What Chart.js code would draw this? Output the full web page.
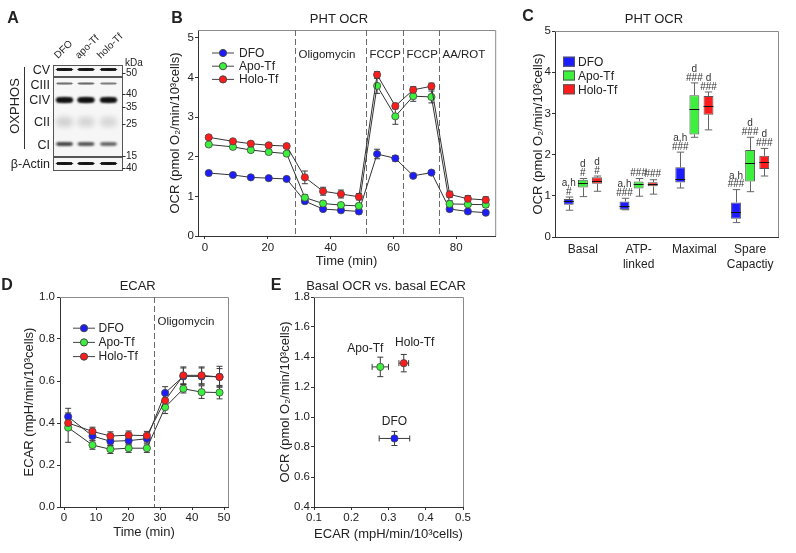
<!DOCTYPE html>
<html>
<head>
<meta charset="utf-8">
<script src="https://cdn.jsdelivr.net/npm/chart.js@4.4.1/dist/chart.umd.min.js"></script>
<style>
  body { margin: 0; width: 796px; height: 553px; position: relative; overflow: hidden; background: #fff;
         font-family: "Liberation Sans", Arial, sans-serif; color: #222; }
  canvas { position: absolute; }
  .t { position: absolute; white-space: nowrap; line-height: 1; font-size: 13px; transform: translate(-50%, -50%); }
</style>
</head>
<body>
<canvas id="blot" width="150" height="180" style="left:0;top:0"></canvas>
<canvas id="chartB" width="340" height="280" style="left:160px;top:0"></canvas>
<canvas id="chartC" width="276" height="280" style="left:520px;top:0"></canvas>
<canvas id="chartD" width="240" height="278" style="left:0;top:275px"></canvas>
<canvas id="chartE" width="220" height="278" style="left:260px;top:275px"></canvas>

<script>
// ---- Panel A: western blot ----
const blotLanes = ['DFO', 'apo-Tf', 'holo-Tf'];
const blotBands = ['CV', 'CIII', 'CIV', 'CII', 'CI', 'β-Actin'];
const bandIntensity = [
  [0.88, 0.88, 0.86],
  [0.34, 0.36, 0.3],
  [0.97, 0.97, 0.94],
  [0.08, 0.07, 0.065],
  [0.6, 0.52, 0.45],
  [0.9, 0.9, 0.88]
];
const kdaMarks = ['50', '40', '35', '25', '15', '40'];

// ---- Panel B: PHT OCR time course ----
const ocrTimes = [1.2, 8.9, 14.6, 20.3, 26.0, 31.8, 37.6, 43.3, 49.0, 54.8, 60.6, 66.3, 72.1, 77.9, 83.7, 89.4];
const ocrDfo  = [1.59, 1.54, 1.48, 1.46, 1.44, 0.88, 0.68, 0.65, 0.62, 2.07, 1.96, 1.52, 1.60, 0.68, 0.62, 0.59];
const ocrApo  = [2.31, 2.25, 2.17, 2.12, 2.08, 0.97, 0.82, 0.78, 0.76, 3.79, 3.02, 3.53, 3.51, 0.81, 0.80, 0.79];
const ocrHolo = [2.49, 2.39, 2.33, 2.29, 2.27, 1.48, 1.13, 1.06, 0.99, 4.07, 3.28, 3.69, 3.78, 1.05, 0.94, 0.91];
const ocrDfoErr  = [0.04, 0.04, 0.03, 0.03, 0.03, 0.05, 0.06, 0.06, 0.06, 0.12, 0.07, 0.05, 0.05, 0.06, 0.05, 0.05];
const ocrApoErr  = [0.04, 0.06, 0.06, 0.05, 0.05, 0.07, 0.06, 0.06, 0.06, 0.19, 0.2, 0.13, 0.15, 0.08, 0.06, 0.06];
const ocrHoloErr = [0.05, 0.05, 0.05, 0.05, 0.05, 0.16, 0.1, 0.1, 0.08, 0.08, 0.07, 0.08, 0.08, 0.08, 0.08, 0.08];
const ocrInjections = [28.6, 51.4, 62.9, 74.6];
const ocrInjectionLabels = ['Oligomycin', 'FCCP', 'FCCP', 'AA/ROT'];
const ocrTimeTicks = [0, 20, 40, 60, 80];
const ocrTicks = [0, 1, 2, 3, 4, 5];

// ---- Panel C: OCR parameters (min, q1, median, q3, max) ----
const boxCategories = ['Basal', ['ATP-', 'linked'], 'Maximal', ['Spare', 'Capactiy']];
const boxDfo  = [[0.65, 0.78, 0.87, 0.92, 0.97], [0.66, 0.66, 0.76, 0.86, 0.94], [1.19, 1.32, 1.40, 1.69, 2.06], [0.35, 0.44, 0.60, 0.84, 1.15]];
const boxApo  = [[0.98, 1.20, 1.31, 1.39, 1.42], [0.99, 1.18, 1.29, 1.35, 1.42], [2.42, 2.49, 3.10, 3.44, 3.74], [1.10, 1.35, 1.79, 2.11, 2.42]];
const boxHolo = [[1.11, 1.29, 1.37, 1.45, 1.48], [1.04, 1.23, 1.29, 1.33, 1.39], [2.60, 2.97, 3.18, 3.42, 3.52], [1.48, 1.65, 1.83, 1.97, 2.15]];
const sigDfo  = [['a,h', '#'], ['a,h', '###'], ['a,h', '###'], ['a,h', '###']];
const sigApo  = [['d', '#'], ['###'], ['d', '###'], ['d', '###']];
const sigHolo = [['d', '#'], ['###'], ['d', '###'], ['d', '###']];

// ---- Panel D: ECAR time course ----
const ecarTimes = [1.3, 8.9, 14.5, 20.2, 25.9, 31.6, 37.3, 43.0, 48.6];
const ecarDfo  = [0.43, 0.338, 0.313, 0.316, 0.325, 0.543, 0.622, 0.622, 0.62];
const ecarApo  = [0.378, 0.295, 0.275, 0.28, 0.28, 0.475, 0.563, 0.547, 0.545];
const ecarHolo = [0.40, 0.36, 0.338, 0.342, 0.34, 0.507, 0.627, 0.627, 0.619];
const ecarDfoErr  = [0.04, 0.02, 0.02, 0.02, 0.02, 0.03, 0.04, 0.04, 0.05];
const ecarApoErr  = [0.07, 0.02, 0.02, 0.02, 0.02, 0.03, 0.02, 0.03, 0.03];
const ecarHoloErr = [0.03, 0.02, 0.02, 0.02, 0.02, 0.03, 0.04, 0.04, 0.04];
const ecarInjections = [28.2];
const ecarInjectionLabels = ['Oligomycin'];
const ecarTimeTicks = [0, 10, 20, 30, 40, 50];
const ecarTicks = [0, 0.2, 0.4, 0.6, 0.8, 1.0];

// ---- Panel E: basal OCR vs basal ECAR ----
const basalNames = ['DFO', 'Apo-Tf', 'Holo-Tf'];
const basalEcar = [0.316, 0.278, 0.341];
const basalEcarErr = [0.041, 0.022, 0.013];
const basalOcr = [0.857, 1.334, 1.359];
const basalOcrErr = [0.047, 0.065, 0.058];
const basalEcarTicks = [0.1, 0.2, 0.3, 0.4, 0.5];
const basalOcrTicks = [0.4, 0.6, 0.8, 1.0, 1.2, 1.4, 1.6, 1.8];

const FONT = '"Liberation Sans", Arial, sans-serif';
const DFO_COLOR = '#1c1cff', APO_COLOR = '#3ef03e', HOLO_COLOR = '#ff1c1c';
const OCR_TITLE = 'OCR (pmol O₂/min/10³cells)';

Chart.defaults.font.family = FONT;
Chart.defaults.color = '#222';
Chart.defaults.animation = false;
Chart.defaults.plugins.legend.display = false;
Chart.defaults.plugins.tooltip.enabled = false;

// page text (titles, panel letters, blot labels)
function addText(txt, x, y, css) {
  const d = document.createElement('div');
  d.className = 't';
  d.textContent = txt;
  d.style.left = x + 'px';
  d.style.top = y + 'px';
  Object.assign(d.style, css || {});
  document.body.appendChild(d);
  return d;
}

function linearAxis({min, max, ticks, fmt, size, title, titlePad, tickPad = 1}) {
  return {
    type: 'linear', min, max,
    afterBuildTicks: s => { s.ticks = ticks.map(v => ({value: v})); },
    afterFit: s => { if (s.isHorizontal()) s.height = size; else s.width = size; },
    ticks: {font: {size: 11.5}, color: '#222', padding: tickPad, autoSkip: false, maxRotation: 0,
            callback: fmt || (v => String(v))},
    grid: {drawOnChartArea: false, tickLength: 3, color: '#333'},
    border: {color: '#333'},
    title: {display: !!title, text: title, font: {size: 13}, color: '#222', padding: titlePad}
  };
}

// grey frame on top and right of the plot
const framePlugin = {
  id: 'frame',
  beforeDatasetsDraw(chart) {
    const {ctx, chartArea: a} = chart;
    ctx.save();
    ctx.strokeStyle = '#8a8a8a';
    ctx.lineWidth = 1;
    ctx.beginPath();
    ctx.moveTo(a.left, a.top + 0.5);
    ctx.lineTo(a.right + 0.5, a.top + 0.5);
    ctx.lineTo(a.right + 0.5, a.bottom);
    ctx.stroke();
    ctx.restore();
  }
};

// dashed injection lines with labels
const injectionPlugin = {
  id: 'injections',
  beforeDatasetsDraw(chart, args, opts) {
    if (!opts.times) return;
    const {ctx, chartArea: a, scales: {x}} = chart;
    ctx.save();
    ctx.font = '11.5px ' + FONT;
    ctx.fillStyle = '#222';
    ctx.textBaseline = 'middle';
    opts.times.forEach((t, i) => {
      const px = Math.round(x.getPixelForValue(t)) + 0.5;
      ctx.strokeStyle = '#6a6a6a';
      ctx.setLineDash([6, 3]);
      ctx.beginPath();
      ctx.moveTo(px, a.top);
      ctx.lineTo(px, a.bottom);
      ctx.stroke();
      ctx.fillText(opts.labels[i], px + 3, a.top + opts.labelDy);
    });
    ctx.restore();
  }
};

// error bars (vertical, and horizontal if xErr given)
const errorBarPlugin = {
  id: 'errorBars',
  beforeDatasetsDraw(chart) {
    const {ctx, scales: {x, y}} = chart;
    const seg = (x1, y1, x2, y2) => { ctx.beginPath(); ctx.moveTo(x1, y1); ctx.lineTo(x2, y2); ctx.stroke(); };
    ctx.save();
    ctx.strokeStyle = '#3a3a3a';
    ctx.lineWidth = 1;
    chart.data.datasets.forEach((ds, i) => {
      chart.getDatasetMeta(i).data.forEach((pt, j) => {
        const v = ds.data[j];
        if (ds.yErr) {
          const t = y.getPixelForValue(v.y + ds.yErr[j]), b = y.getPixelForValue(v.y - ds.yErr[j]);
          seg(pt.x, t, pt.x, b);
          seg(pt.x - 3, t, pt.x + 3, t);
          seg(pt.x - 3, b, pt.x + 3, b);
        }
        if (ds.xErr) {
          const l = x.getPixelForValue(v.x - ds.xErr[j]), r = x.getPixelForValue(v.x + ds.xErr[j]);
          seg(l, pt.y, r, pt.y);
          seg(l, pt.y - 3, l, pt.y + 3);
          seg(r, pt.y - 3, r, pt.y + 3);
        }
      });
    });
    ctx.restore();
  }
};

// legend drawn inside the plot
const legendPlugin = {
  id: 'innerLegend',
  afterDraw(chart, args, o) {
    if (o.x === undefined) return;
    const ctx = chart.ctx;
    ctx.save();
    ctx.font = '12px ' + FONT;
    ctx.textBaseline = 'middle';
    chart.data.datasets.forEach((ds, i) => {
      const cy = o.y + i * o.dy;
      if (o.kind === 'box') {
        ctx.fillStyle = ds.backgroundColor;
        ctx.fillRect(o.x, cy - 5, 12, 10);
        ctx.strokeStyle = '#555';
        ctx.strokeRect(o.x + 0.5, cy - 4.5, 11, 9);
      } else {
        ctx.strokeStyle = '#444';
        ctx.lineWidth = 1;
        ctx.beginPath();
        ctx.moveTo(o.x, cy + 0.5);
        ctx.lineTo(o.x + o.len, cy + 0.5);
        ctx.stroke();
        ctx.beginPath();
        ctx.arc(o.x + o.len / 2, cy + 0.5, 3.6, 0, Math.PI * 2);
        ctx.fillStyle = ds.pointBackgroundColor;
        ctx.fill();
        ctx.strokeStyle = '#444';
        ctx.stroke();
      }
      ctx.fillStyle = '#222';
      ctx.fillText(ds.label, o.textX, cy + 1);
    });
    ctx.restore();
  }
};

function lineSet(label, times, values, errs, color, order) {
  return {
    label, order,
    data: times.map((t, i) => ({x: t, y: values[i]})),
    yErr: errs,
    showLine: true,
    borderColor: '#333', borderWidth: 1,
    pointRadius: 3.6, pointBackgroundColor: color, pointBorderColor: '#444', pointBorderWidth: 0.8
  };
}

// ---- B ----
new Chart(document.getElementById('chartB'), {
  type: 'scatter',
  data: {
    datasets: [
      lineSet('DFO', ocrTimes, ocrDfo, ocrDfoErr, DFO_COLOR, 3),
      lineSet('Apo-Tf', ocrTimes, ocrApo, ocrApoErr, APO_COLOR, 2),
      lineSet('Holo-Tf', ocrTimes, ocrHolo, ocrHoloErr, HOLO_COLOR, 1)
    ]
  },
  options: {
    responsive: false,
    layout: {padding: {top: 30, right: 4, left: 0, bottom: 0}},
    scales: {
      x: linearAxis({min: -2.22, max: 92.4, ticks: ocrTimeTicks, size: 44, title: 'Time (min)', titlePad: 10.5, tickPad: 2.4}),
      y: linearAxis({min: 0, max: 5.2, ticks: ocrTicks, size: 38, title: OCR_TITLE, titlePad: 7.2})
    },
    plugins: {
      injections: {times: ocrInjections, labels: ocrInjectionLabels, labelDy: 24.5},
      innerLegend: {x: 52, y: 52.5, dy: 13.2, len: 22, textX: 79}
    }
  },
  plugins: [framePlugin, injectionPlugin, errorBarPlugin, legendPlugin]
});

// ---- C: box plots from floating bars ----
const boxPlugin = {
  id: 'boxes',
  afterDatasetsDraw(chart) {
    const {ctx, scales: {y}} = chart;
    const seg = (x1, y1, x2, y2) => { ctx.beginPath(); ctx.moveTo(x1, y1); ctx.lineTo(x2, y2); ctx.stroke(); };
    ctx.save();
    ctx.lineWidth = 1;
    chart.data.datasets.forEach((ds, i) => {
      chart.getDatasetMeta(i).data.forEach((bar, j) => {
        const [min, q1, med, q3, max] = ds.stats[j];
        const x = Math.round(bar.x) + 0.5, hw = bar.width / 2;
        const pMin = y.getPixelForValue(min), pQ1 = y.getPixelForValue(q1);
        const pMed = Math.round(y.getPixelForValue(med)) + 0.5;
        const pQ3 = y.getPixelForValue(q3), pMax = y.getPixelForValue(max);
        ctx.strokeStyle = '#666';
        seg(x, pMax, x, pQ3);
        seg(x, pQ1, x, pMin);
        seg(x - hw * 0.75, pMax, x + hw * 0.75, pMax);
        seg(x - hw * 0.75, pMin, x + hw * 0.75, pMin);
        ctx.strokeStyle = '#111';
        seg(bar.x - hw, pMed, bar.x + hw, pMed);
        // significance marks above the whisker
        ctx.fillStyle = '#333';
        ctx.font = '10px ' + FONT;
        ctx.textAlign = 'center';
        ctx.textBaseline = 'middle';
        const marks = ds.marks[j];
        marks.forEach((m, k) => {
          ctx.fillText(m, bar.x, pMax - 5 - (marks.length - 1 - k) * 8.8);
        });
      });
    });
    ctx.restore();
  }
};

function boxSet(label, stats, marks, color) {
  return {
    label, stats, marks,
    data: stats.map(s => [s[1], s[3]]),
    backgroundColor: color,
    borderColor: '#555', borderWidth: 1, borderSkipped: false,
    barPercentage: 0.7, categoryPercentage: 0.76
  };
}

new Chart(document.getElementById('chartC'), {
  type: 'bar',
  data: {
    labels: boxCategories,
    datasets: [
      boxSet('DFO', boxDfo, sigDfo, DFO_COLOR),
      boxSet('Apo-Tf', boxApo, sigApo, APO_COLOR),
      boxSet('Holo-Tf', boxHolo, sigHolo, HOLO_COLOR)
    ]
  },
  options: {
    responsive: false,
    layout: {padding: {top: 31, right: 18, left: 0, bottom: 0}},
    scales: {
      x: {
        afterFit: s => { s.height = 43; },
        ticks: {font: {size: 12, lineHeight: 1.25}, color: '#222', padding: 5.5, maxRotation: 0, autoSkip: false},
        grid: {display: false, drawTicks: false},
        border: {color: '#333'}
      },
      y: linearAxis({min: 0, max: 5, ticks: ocrTicks, size: 35, title: OCR_TITLE, titlePad: 10.2})
    },
    plugins: {
      innerLegend: {x: 43, y: 61.7, dy: 13.8, kind: 'box', textX: 58}
    }
  },
  plugins: [framePlugin, boxPlugin, legendPlugin]
});

// ---- D ----
new Chart(document.getElementById('chartD'), {
  type: 'scatter',
  data: {
    datasets: [
      lineSet('DFO', ecarTimes, ecarDfo, ecarDfoErr, DFO_COLOR, 3),
      lineSet('Apo-Tf', ecarTimes, ecarApo, ecarApoErr, APO_COLOR, 2),
      lineSet('Holo-Tf', ecarTimes, ecarHolo, ecarHoloErr, HOLO_COLOR, 1)
    ]
  },
  options: {
    responsive: false,
    layout: {padding: {top: 22, right: 12, left: 0, bottom: 0}},
    scales: {
      x: linearAxis({min: -1.25, max: 51.25, ticks: ecarTimeTicks, size: 46, title: 'Time (min)', titlePad: 12.9, tickPad: 1}),
      y: linearAxis({min: 0, max: 1, ticks: ecarTicks, fmt: v => v.toFixed(1), size: 60,
                     title: 'ECAR (mpH/min/10³cells)', titlePad: 21.5, tickPad: 2})
    },
    plugins: {
      injections: {times: ecarInjections, labels: ecarInjectionLabels, labelDy: 25.3},
      innerLegend: {x: 73, y: 52.7, dy: 14.2, len: 22, textX: 98.5}
    }
  },
  plugins: [framePlugin, injectionPlugin, errorBarPlugin, legendPlugin]
});

// ---- E ----
const pointLabelPlugin = {
  id: 'pointLabels',
  afterDatasetsDraw(chart) {
    const ctx = chart.ctx;
    const offsets = [[0, -17], [-15, -18], [11, -20]];
    ctx.save();
    ctx.font = '12px ' + FONT;
    ctx.fillStyle = '#222';
    ctx.textAlign = 'center';
    ctx.textBaseline = 'middle';
    chart.getDatasetMeta(0).data.forEach((pt, i) => {
      ctx.fillText(basalNames[i], pt.x + offsets[i][0], pt.y + offsets[i][1]);
    });
    ctx.restore();
  }
};

new Chart(document.getElementById('chartE'), {
  type: 'scatter',
  data: {
    datasets: [{
      label: 'Basal',
      data: basalEcar.map((v, i) => ({x: v, y: basalOcr[i]})),
      xErr: basalEcarErr,
      yErr: basalOcrErr,
      pointRadius: 3.6,
      pointBackgroundColor: [DFO_COLOR, APO_COLOR, HOLO_COLOR],
      pointBorderColor: '#444', pointBorderWidth: 0.8
    }]
  },
  options: {
    responsive: false,
    layout: {padding: {top: 22, right: 17, left: 0, bottom: 0}},
    scales: {
      x: linearAxis({min: 0.1, max: 0.5, ticks: basalEcarTicks, fmt: v => v.toFixed(1), size: 46,
                     title: 'ECAR (mpH/min/10³cells)', titlePad: 11.2, tickPad: 1}),
      y: linearAxis({min: 0.4, max: 1.8, ticks: basalOcrTicks, fmt: v => v.toFixed(1), size: 54,
                     title: OCR_TITLE, titlePad: 17.2, tickPad: 1})
    }
  },
  plugins: [framePlugin, errorBarPlugin, pointLabelPlugin]
});

// ---- A: blot drawing ----
function drawBlot() {
  const ctx = document.getElementById('blot').getContext('2d');
  const boxes = [[53, 65, 69, 11], [53, 77, 69, 79], [53, 157, 69, 13]];
  const rows = [
    {y: 69.5, h: 2.8, blur: 0.6},
    {y: 83.5, h: 2.2, blur: 0.7},
    {y: 100, h: 5, blur: 0.8},
    {y: 122, h: 10, blur: 2.5},
    {y: 144, h: 3.2, blur: 0.8},
    {y: 163.5, h: 2.8, blur: 0.6}
  ];
  const laneX = [64.5, 86, 108.5];
  ctx.fillStyle = '#f6f6f6';
  boxes.forEach(b => ctx.fillRect(...b));
  rows.forEach((r, bi) => {
    laneX.forEach((lx, li) => {
      ctx.save();
      ctx.filter = `blur(${r.blur}px)`;
      ctx.fillStyle = `rgba(15,15,15,${bandIntensity[bi][li]})`;
      ctx.beginPath();
      ctx.ellipse(lx, r.y, 9, r.h / 2, 0, 0, Math.PI * 2);
      ctx.fill();
      ctx.fillRect(lx - 7.5, r.y - r.h / 2, 15, r.h);
      ctx.restore();
    });
  });
  ctx.strokeStyle = '#555';
  ctx.lineWidth = 1;
  boxes.forEach(b => ctx.strokeRect(b[0] + 0.5, b[1] + 0.5, b[2], b[3]));
  // OXPHOS bracket and kDa ticks
  ctx.strokeStyle = '#333';
  ctx.beginPath();
  ctx.moveTo(24.5, 67);
  ctx.lineTo(24.5, 149);
  const kdaY = [73.3, 94.3, 107.3, 124, 155.7, 168.3];
  kdaY.forEach(y => { ctx.moveTo(122, Math.round(y) + 0.5); ctx.lineTo(125.5, Math.round(y) + 0.5); });
  ctx.stroke();
  kdaY.forEach((y, i) => addText(kdaMarks[i], 126, y, {fontSize: '10px', transform: 'translate(0,-50%)'}));
}
drawBlot();

const bandLabelY = [69.5, 85, 100, 122, 145, 163.5];
blotBands.forEach((b, i) => addText(b, 50, bandLabelY[i], {fontSize: '12.5px', transform: 'translate(-100%,-50%)'}));
addText('OXPHOS', 14, 106, {transform: 'translate(-50%,-50%) rotate(-90deg)', fontSize: '13px'});
addText('kDa', 125, 62.5, {fontSize: '10px', transform: 'translate(0,-50%)'});
const laneAnchorX = [56, 77, 99];
blotLanes.forEach((l, i) => addText(l, laneAnchorX[i], 57, {fontSize: '10px', transformOrigin: '0 50%',
  transform: 'translate(0,-50%) rotate(-45deg)'}));

// titles and panel letters
addText('A', 13, 18, {fontWeight: 'bold', fontSize: '16px'});
addText('B', 177, 17.5, {fontWeight: 'bold', fontSize: '16px'});
addText('C', 528, 16, {fontWeight: 'bold', fontSize: '16px'});
addText('D', 7, 285, {fontWeight: 'bold', fontSize: '16px'});
addText('E', 276, 285, {fontWeight: 'bold', fontSize: '16px'});
addText('PHT OCR', 339, 17.7);
addText('PHT OCR', 654, 17.7);
addText('ECAR', 137.7, 285);
addText('Basal OCR vs. basal ECAR', 386, 285);
</script>
</body>
</html>
